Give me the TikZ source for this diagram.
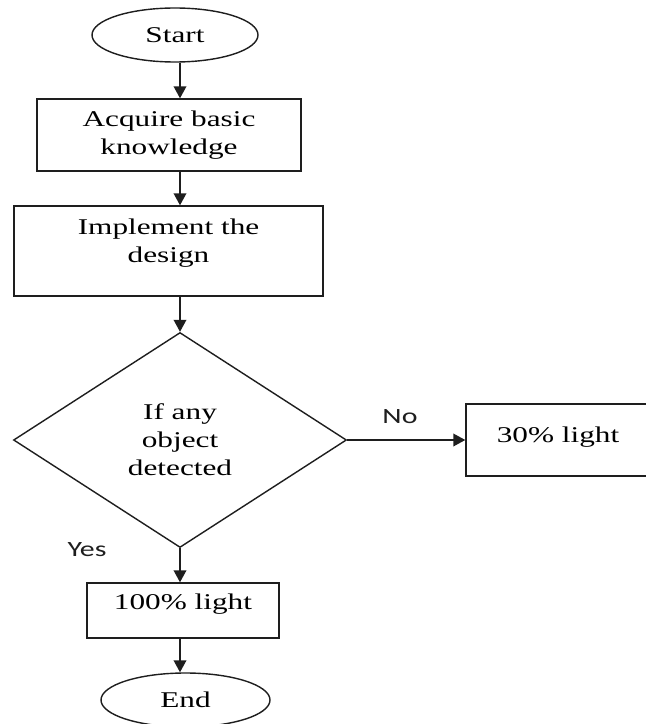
\documentclass[tikz,border=0pt]{standalone}
\usepackage{fontspec}
\setmainfont{Liberation Serif}
\newfontfamily\labelfont{Carlito}
\usepackage{graphicx}
\usepackage{xcolor}
\definecolor{Black}{RGB}{30,30,30}
\definecolor{White}{RGB}{255,255,255}
\newcommand{\wide}[1]		{\scalebox{1.39}[1]{#1}}
\newcommand{\widesans}[1]	{\scalebox{1.37}[1]{#1}}
\usepackage{tikz}
\usetikzlibrary{shapes.geometric, arrows.meta}

\begin{document}
\begin{tikzpicture}[
		font=\fontsize{16}{19.9}\selectfont,
		terminal/.style={ellipse, draw=Black, line width=1pt, inner sep=0pt, minimum height=1.35cm},
		stepbox/.style={rectangle, draw=Black, line width=1pt, align=center, inner sep=0pt},
		decision/.style={diamond, draw=Black, line width=1pt, align=center, inner sep=0pt},
		flow/.style={-{Triangle[length=8.5pt, width=9pt]}, draw=Black, line width=1pt},
		answer/.style={font=\labelfont\fontsize{15.5}{18}\selectfont, color=Black}
	]
		
		\useasboundingbox (0,0) rectangle (16.15,-18.1);
		\coordinate (spine) at (4.5,0);
		
		% Shapes
		\node[terminal, minimum width=4.15cm] 		(start) 	at (4.375,-0.875) 	{\wide{Start}};
		\node[stepbox, minimum width=6.6cm, minimum height=1.8cm] 		(acquire) 	at (4.225,-3.375) 	{\wide{Acquire basic}\\\wide{knowledge}};
		\node[stepbox, minimum width=7.725cm, minimum height=2.25cm] 	(design) 	at (4.2125,-6.275) 	{};
		\node[align=center, inner sep=0pt] 		(designtext) 	at (4.2125,-6.075) 	{\wide{Implement the}\\\wide{design}};
		\node[decision, minimum width=8.325cm, minimum height=5.375cm] 	(detect) 	at (4.5,-11.0) 	{\wide{If any}\\\wide{object}\\\wide{detected}};
		\node[stepbox, minimum width=4.6cm, minimum height=1.8cm, text depth=0.29cm] 	(light30) 	at (13.95,-11.0) 	{\wide{30\% light}};
		\node[stepbox, minimum width=4.8cm, minimum height=1.375cm, text depth=0.46cm] 	(light100) 	at (4.575,-15.2625) 	{\wide{100\% light}};
		\node[terminal, minimum width=4.225cm] 		(finish) 	at (4.6375,-17.5) 	{\wide{End}};
		
		% Lines
		\draw[flow] (start.south -| spine) -- (acquire.north -| spine);
		\draw[flow] (acquire.south -| spine) -- (design.north -| spine);
		\draw[flow] (design.south -| spine) -- (detect.north);
		\draw[flow] (detect.east) -- (light30.west);
		\draw[flow] (detect.south) -- (light100.north -| detect.south);
		\draw[flow] (light100.south -| spine) -- (finish.north -| spine);
		
		% Answers
		\node[answer] 		(no) 	at (10.0,-10.425) 	{\widesans{No}};
		\node[answer] 		(yes) 	at (2.175,-13.75) 	{\widesans{Yes}};
		
	\end{tikzpicture}
\end{document}
